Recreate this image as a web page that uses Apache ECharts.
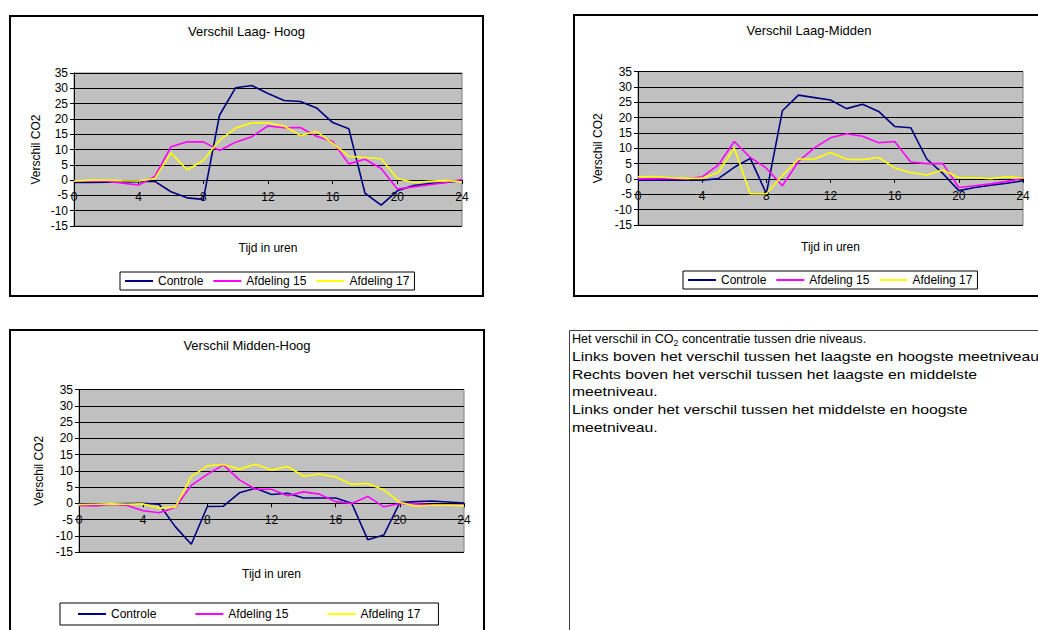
<!DOCTYPE html>
<html><head><meta charset="utf-8">
<script src="https://cdn.jsdelivr.net/npm/echarts@6/dist/echarts.min.js"></script>
<style>html,body{margin:0;padding:0;background:#fff;overflow:hidden}#c{width:1038px;height:630px}</style>
</head><body><div id="c"></div>
<script>
// ---- data ----
const hours = [0,1,2,3,4,5,6,7,8,9,10,11,12,13,14,15,16,17,18,19,20,21,22,23,24];
const seriesNames = ['Controle', 'Afdeling 15', 'Afdeling 17'];
const chartTitles = ['Verschil Laag- Hoog', 'Verschil Laag-Midden', 'Verschil Midden-Hoog'];
const xAxisTitle = 'Tijd in uren';
const yAxisTitle = 'Verschil CO2';
const xTickStep = 4, xMin = 0, xMax = 24;
const yTickStep = 5, yMin = -15, yMax = 35;

// Verschil Laag- Hoog
const lhControle = [-0.8,-0.8,-0.7,-0.6,-0.5,-0.4,-3.8,-5.8,-6.3,21.2,30.2,30.9,28.3,26.0,25.7,23.6,18.8,16.8,-4.3,-8.2,-3.5,-1.8,-1.1,-0.8,-0.2];
const lhAfd15   = [-0.2,-0.3,-0.4,-1.0,-1.6,1.2,10.9,12.5,12.5,9.7,12.4,14.2,17.7,17.1,17.2,14.3,12.6,5.3,6.8,3.8,-2.9,-2.2,-1.5,-0.8,0.2];
const lhAfd17   = [-0.3,0.0,0.0,-0.2,-0.3,0.5,8.9,3.3,6.5,13.0,17.0,18.7,18.7,17.7,14.6,15.9,12.0,7.8,7.4,7.0,0.5,-0.8,-0.4,-0.1,-0.6];
// Verschil Laag-Midden
const lmControle = [-0.4,-0.4,-0.4,-0.4,-0.4,0.1,3.8,6.7,-4.8,22.2,27.3,26.5,25.7,22.9,24.3,22.0,17.1,16.7,6.5,1.8,-3.8,-2.8,-2.0,-1.4,-0.6];
const lmAfd15   = [0.0,0.1,0.1,0.0,0.7,4.5,12.2,7.0,3.5,-2.2,5.7,10.1,13.4,14.7,13.9,11.8,12.2,5.5,5.0,5.0,-2.8,-2.2,-1.6,-0.8,0.2];
const lmAfd17   = [0.7,0.8,0.4,0.2,0.2,2.1,10.1,-4.8,-4.8,1.1,6.5,6.5,8.6,6.4,6.3,7.0,3.6,2.1,1.3,2.9,0.4,0.4,0.1,0.7,0.3];
// Verschil Midden-Hoog
const mhControle = [-0.3,-0.3,-0.2,-0.1,0.0,-0.3,-7.2,-12.6,-1.0,-0.9,3.2,4.6,2.7,3.1,1.6,1.6,1.6,0.0,-11.2,-9.8,0.2,0.5,0.7,0.4,0.1];
const mhAfd15   = [-0.7,-0.8,-0.4,-0.7,-2.3,-2.9,-1.3,5.5,8.9,11.8,7.2,4.3,4.3,2.3,3.5,2.8,0.5,-0.1,2.1,-1.1,-0.1,-0.2,-0.5,-0.6,-0.6];
const mhAfd17   = [-0.4,-0.3,-0.2,-0.3,-0.2,-1.5,-1.2,8.2,11.5,11.9,10.5,12.0,10.2,11.3,8.3,9.0,8.1,5.8,6.1,4.1,0.3,-0.9,-0.6,-0.6,-0.8];

const noteFirstLine = 'Het verschil in CO{sub|2} concentratie tussen drie niveaus.';
const noteOtherLines = [
  'Links boven het verschil tussen het laagste en hoogste meetniveau.',
  'Rechts boven het verschil tussen het laagste en middelste',
  'meetniveau.',
  'Links onder het verschil tussen het middelste en hoogste',
  'meetniveau.'
];

// ---- styling / layout ----
const FONT = "'Liberation Sans', Arial, sans-serif";
const colors = ['#000080', '#ff00ff', '#ffff00'];
const allData = [[lhControle, lhAfd15, lhAfd17], [lmControle, lmAfd15, lmAfd17], [mhControle, mhAfd15, mhAfd17]];
const grids = [
  {left: 74, top: 73, width: 388, height: 153},
  {left: 638, top: 71.5, width: 385, height: 153.5},
  {left: 79, top: 389.5, width: 385, height: 162.5}
];
const xNameGap = [62, 62, 65];
const yNameGap = [32, 34, 34];
const titlePos = [[246.5, 25], [809, 24], [247, 339]];
const legendPos = [
  {left: 120, top: 272, padding: [3, 5], itemGap: 10},
  {left: 683, top: 271, padding: [3, 5], itemGap: 10},
  {left: 60, top: 603, padding: [5, 18], itemGap: 39}
];
// x axis sits on the zero line: offset from the grid bottom derived from the y scale
const zeroOffset = g => -g.height * (0 - yMin) / (yMax - yMin);

const chart = echarts.init(document.getElementById('c'), null, {renderer: 'svg'});

const option = {
  backgroundColor: '#fff',
  animation: false,
  textStyle: {fontFamily: FONT},
  title: chartTitles.map((t, i) => ({
    text: t, left: titlePos[i][0], top: titlePos[i][1], textAlign: 'center', padding: 0,
    textStyle: {fontSize: 13, fontWeight: 'normal', color: '#000', fontFamily: FONT}
  })),
  grid: grids.map(g => Object.assign({
    show: true, backgroundColor: '#c0c0c0', borderColor: '#808080', borderWidth: 1,
    containLabel: false, outerBoundsMode: 'none'
  }, g)),
  legend: legendPos.map(l => Object.assign({
    data: seriesNames, orient: 'horizontal', itemWidth: 28, itemHeight: 2, icon: 'rect',
    borderColor: '#000', borderWidth: 1, backgroundColor: '#fff', selectedMode: false,
    textStyle: {fontSize: 12, color: '#000', fontFamily: FONT}
  }, l)),
  xAxis: grids.map((g, i) => ({
    type: 'value', gridIndex: i, min: xMin, max: xMax, interval: xTickStep,
    position: 'bottom', offset: zeroOffset(g),
    name: xAxisTitle, nameLocation: 'middle', nameGap: xNameGap[i],
    nameTextStyle: {fontSize: 12, color: '#000', fontFamily: FONT},
    axisLine: {show: true, onZero: false, lineStyle: {color: '#000', width: 1}},
    axisTick: {show: true, length: 4, lineStyle: {color: '#000'}},
    axisLabel: {fontSize: 12, color: '#000', margin: 11, showMinLabel: true, showMaxLabel: true, fontFamily: FONT},
    splitLine: {show: false}
  })),
  yAxis: grids.map((g, i) => ({
    type: 'value', gridIndex: i, min: yMin, max: yMax, interval: yTickStep,
    name: yAxisTitle, nameLocation: 'middle', nameGap: yNameGap[i], nameRotate: 90,
    nameTextStyle: {fontSize: 12, color: '#000', fontFamily: FONT},
    axisLine: {show: true, onZero: false, lineStyle: {color: '#000', width: 1}},
    axisTick: {show: true, length: 4, lineStyle: {color: '#000'}},
    axisLabel: {fontSize: 12, color: '#000', margin: 6, fontFamily: FONT},
    splitLine: {show: true, lineStyle: {color: '#000', width: 1}}
  })),
  series: [],
  graphic: [
    {type: 'rect', shape: {x: 10, y: 16, width: 473, height: 280}, style: {fill: 'none', stroke: '#000', lineWidth: 2}, silent: true, z: 100},
    {type: 'rect', shape: {x: 574, y: 15, width: 480, height: 281}, style: {fill: 'none', stroke: '#000', lineWidth: 2}, silent: true, z: 100},
    {type: 'rect', shape: {x: 10, y: 330, width: 474, height: 320}, style: {fill: 'none', stroke: '#000', lineWidth: 2}, silent: true, z: 100},
    {type: 'rect', shape: {x: 569.5, y: 330.5, width: 500, height: 320}, style: {fill: 'none', stroke: '#404040', lineWidth: 1}, silent: true, z: 100},
    {type: 'text', x: 572, y: 329.5, scaleX: 0.97, silent: true, z: 100,
      style: {text: noteFirstLine, fill: '#000', fontSize: 13, fontFamily: FONT, lineHeight: 17.6,
        rich: {sub: {fontSize: 9, lineHeight: 11, verticalAlign: 'bottom', fontFamily: FONT, fill: '#000'}}}},
    {type: 'text', x: 572, y: 347.9, scaleX: 1.21, silent: true, z: 100,
      style: {text: noteOtherLines.join('\n'), fill: '#000', fontSize: 13, fontFamily: FONT, lineHeight: 17.6}}
  ]
};

allData.forEach((set, gi) => {
  set.forEach((vals, si) => {
    option.series.push({
      type: 'line', name: seriesNames[si], xAxisIndex: gi, yAxisIndex: gi,
      data: hours.map((h, k) => [h, vals[k]]),
      symbol: 'none', smooth: false,
      lineStyle: {color: colors[si], width: 1.6},
      itemStyle: {color: colors[si]},
      z: 2 + si
    });
  });
});

chart.setOption(option);
</script>
</body></html>
